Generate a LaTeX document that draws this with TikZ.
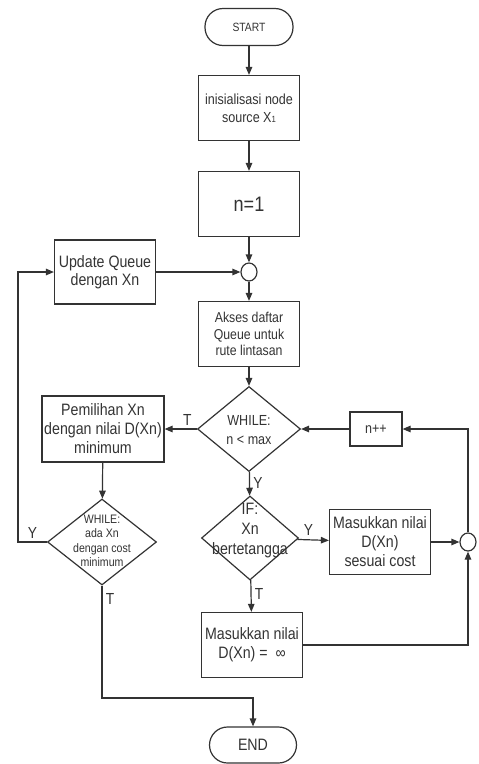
\documentclass[tikz,border=0pt]{standalone}
\usepackage{fontspec}
\setmainfont{Liberation Sans}[FakeStretch=0.86]
\usetikzlibrary{shapes.geometric,arrows.meta}

\begin{document}
\begin{tikzpicture}[x=1pt,y=-1pt,line width=1.2pt,color=black!80,
  box/.style={draw,rectangle,minimum width=101pt,minimum height=65pt,
    inner sep=1pt,align=center,font=\fontsize{16.5}{19}\selectfont},
  term/.style={draw,rectangle,rounded corners=18pt,minimum width=88pt,
    minimum height=37pt},
  dia/.style={draw,diamond,inner sep=0pt},
  dtext/.style={align=center,inner sep=0pt},
  junc/.style={draw,ellipse,minimum width=16pt,minimum height=18pt,inner sep=0pt},
  arr/.style={-{Triangle[length=8pt,width=6.5pt]}},
  lbl/.style={font=\fontsize{16}{16}\selectfont}]
  \useasboundingbox (0,0) rectangle (479,764);

  \node[term,font=\fontsize{12}{14}\selectfont] (start) at (249,27) {START};
  \node[box,font=\fontsize{14.6}{18}\selectfont] (init) at (249,108)
    {inisialisasi node\\source X{\fontsize{9}{9}\selectfont 1}};
  \node[box,font=\fontsize{21}{24}\selectfont] (n1) at (249,204) {n=1};
  \node[junc] (j1) at (249,272) {};
  \node[box,minimum height=64pt,font=\fontsize{16.5}{18}\selectfont] (upd) at (105,272)
    {Update Queue\\dengan Xn};
  \node[box,font=\fontsize{14.3}{16.5}\selectfont] (akses) at (249,334)
    {Akses daftar\\Queue untuk\\rute lintasan};

  % loop n < max
  \node[dia,minimum width=103pt,minimum height=85pt] (w1) at (249,429) {};
  \node[dtext,font=\fontsize{14.6}{19}\selectfont] (w1t) at (249,430) {WHILE:\\n < max};
  \node[box,minimum width=52pt,minimum height=34pt,font=\fontsize{14.6}{17}\selectfont]
    (inc) at (376,429) {n++};
  \node[box,minimum width=122pt,minimum height=66pt] (pil) at (103,429)
    {Pemilihan Xn\\dengan nilai D(Xn)\\minimum};

  % tetangga
  \node[dia,minimum width=97pt,minimum height=84pt] (ifn) at (250,538) {};
  \node[dtext,font=\fontsize{16.5}{20}\selectfont] (ifnt) at (250,531)
    {IF:\\Xn\\bertetangga};
  \node[box] (msk) at (380,542) {Masukkan nilai\\D(Xn)\\sesuai cost};
  \node[junc] (j2) at (468,542) {};
  \node[box] (inf) at (252,645) {Masukkan nilai\\D(Xn) =\ \ ∞};

  \node[dia,minimum width=109pt,minimum height=86pt] (w2) at (102,542) {};
  \node[dtext,font=\fontsize{12.3}{14.5}\selectfont] (w2t) at (102,541)
    {WHILE:\\ada Xn\\dengan cost\\minimum};
  \node[term,minimum width=87pt,minimum height=36pt,font=\fontsize{16.5}{18}\selectfont]
    (end) at (253,745) {END};

  \coordinate (yturn) at (18,542);
  \coordinate (tturn) at (102,698);

  \draw[arr] (start) -- (init);
  \draw[arr] (init) -- (n1);
  \draw[arr] (n1) -- (j1);
  \draw[arr] (upd) -- (j1);
  \draw[arr] (j1) -- (akses);
  \draw[arr] (akses) -- (w1);
  \draw[arr] (w1) -- node[lbl,above,pos=0.3] {T} (pil);
  \draw[arr] (w1) -- node[lbl,right,pos=0.45] {Y} (ifn);
  \draw[arr] (ifn) -- node[lbl,above,pos=0.35] {Y} (msk);
  \draw[arr] (ifn) -- node[lbl,right,pos=0.45] {T} (inf);
  \draw[arr] (msk) -- (j2);
  \draw[arr] (inf) -| (j2);
  \draw[arr] (j2) |- (inc);
  \draw[arr] (inc) -- (w1);
  \draw[arr] (pil) -- (w2);
  \draw[arr] (w2.west) -- node[lbl,above] {Y} (yturn) |- (upd);
  \draw[arr] (w2.south) -- node[lbl,right,pos=0.12] {T} (tturn) -| (end);
\end{tikzpicture}
\end{document}
